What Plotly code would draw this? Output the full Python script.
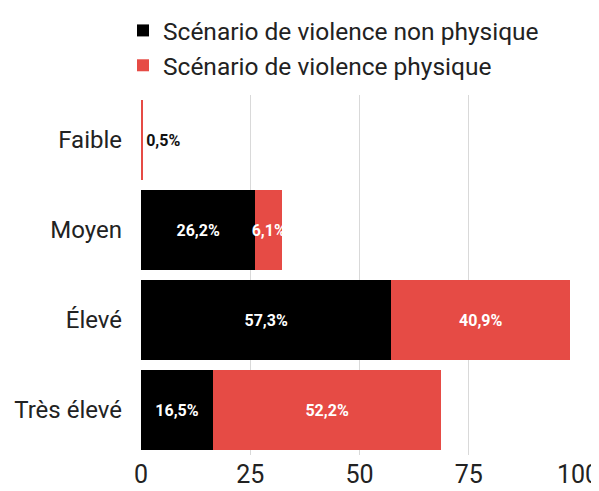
import plotly.graph_objects as go

categories = ["Faible", "Moyen", "Élevé", "Très élevé"]
non_physique = [None, 26.2, 57.3, 16.5]
physique = [0.5, 6.1, 40.9, 52.2]
tick_vals = [0, 25, 50, 75, 100]


def fr(v):
    return "" if v is None else f"{v:.1f}".replace(".", ",") + "%"


fig = go.Figure()
fig.add_trace(go.Bar(
    y=categories, x=non_physique, orientation="h",
    name="Scénario de violence non physique",
    marker=dict(color="#000000", line=dict(width=0)),
    text=[fr(v) for v in non_physique],
    textposition="inside", insidetextanchor="middle", textangle=0,
    textfont=dict(family="Roboto", size=16, color="white", weight="bold"),
    hoverinfo="skip",
))
fig.add_trace(go.Bar(
    y=categories, x=physique, orientation="h",
    name="Scénario de violence physique",
    marker=dict(color="#E64B45", line=dict(width=0)),
    text=[fr(v) for v in physique],
    textposition=["outside", "inside", "inside", "inside"],
    insidetextanchor="middle", textangle=0,
    textfont=dict(family="Roboto", size=16, color="white", weight="bold"),
    outsidetextfont=dict(family="Roboto", size=16, color="#111111", weight="bold"),
    cliponaxis=False,
    hoverinfo="skip",
))

# the page body adds an 8px offset, so the figure is a bit smaller than the window
fig.update_layout(
    width=591, height=483,
    barmode="stack", bargap=0.11,
    paper_bgcolor="white", plot_bgcolor="white",
    margin=dict(l=133, r=21, t=87, b=36, autoexpand=False),
    font=dict(family="Roboto", color="#222222"),
    uniformtext=dict(minsize=16, mode="show"),
    legend=dict(
        orientation="v", traceorder="normal",
        xref="container", yref="container",
        x=0.1946, y=1.0104, xanchor="left", yanchor="top",
        font=dict(family="Roboto", size=24.5, color="#222222"),
        itemwidth=30, tracegroupgap=0,
    ),
    showlegend=True,
)
fig.update_xaxes(
    range=[0, 100], tickvals=tick_vals,
    showgrid=True, gridcolor="#d9d9d9", gridwidth=1,
    zeroline=False, automargin=False, ticklabeloverflow="allow",
    tickfont=dict(family="Roboto", size=25, color="#222222"),
    ticks="", ticklabelstandoff=2,
)
fig.update_yaxes(
    categoryorder="array", categoryarray=categories, autorange="reversed",
    tickfont=dict(family="Roboto", size=24, color="#222222"),
    ticks="", ticklabelstandoff=18, showgrid=False, automargin=False,
)

fig.write_html("out.html")
